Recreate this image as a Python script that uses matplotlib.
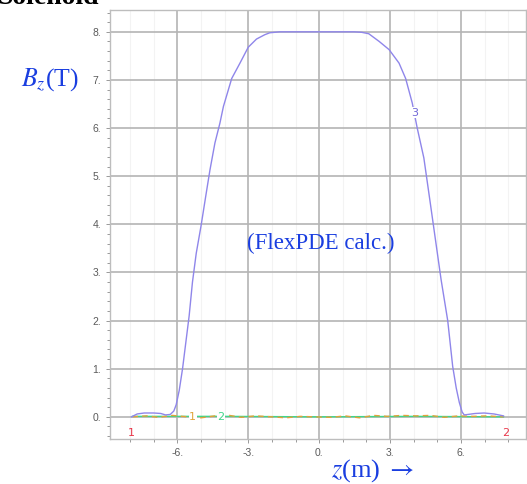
import numpy as np
import matplotlib.pyplot as plt
from matplotlib.ticker import MultipleLocator, FuncFormatter

# curve 3: Bz on axis
z3 = [-7.94, -7.7, -7.4, -7.0, -6.7, -6.5, -6.3, -6.15, -6.05, -5.92, -5.78, -5.64,
      -5.5, -5.36, -5.2, -5.0, -4.8, -4.62, -4.41, -4.2, -4.05, -3.7, -3.35, -3.0,
      -2.65, -2.3, -2.09, -1.67, -1.2, 0.0, 1.2, 1.48, 1.8, 2.1, 2.54, 2.96, 3.38,
      3.66, 3.94, 4.15, 4.43, 4.7, 4.95, 5.16, 5.44, 5.65, 5.8, 5.93, 6.05, 6.14,
      6.3, 6.6, 6.98, 7.4, 7.8]
bz3 = [0.0, 0.06, 0.08, 0.08, 0.07, 0.04, 0.05, 0.12, 0.25, 0.55, 1.0, 1.55,
       2.1, 2.8, 3.4, 3.96, 4.58, 5.13, 5.69, 6.1, 6.45, 7.03, 7.35, 7.68,
       7.85, 7.94, 7.98, 8.0, 8.0, 8.0, 8.0, 8.0, 7.99, 7.96, 7.8, 7.63, 7.35,
       7.03, 6.52, 6.0, 5.38, 4.45, 3.58, 2.85, 2.0, 1.05, 0.6, 0.3, 0.1, 0.04,
       0.05, 0.07, 0.08, 0.06, 0.02]

# curves 1 and 2: near-zero components
z1 = [-7.9, -7.3, -6.8, -6.2, -5.8, -5.0, -4.4, -3.8, -3.3, -2.7, -2.0, -1.4, -0.8,
      -0.2, 0.5, 1.1, 1.7, 2.3, 2.9, 3.5, 4.1, 4.7, 5.3, 5.9, 6.5, 7.1, 7.8]
b1 = [0.0, 0.02, -0.01, 0.03, 0.01, -0.02, 0.02, 0.03, -0.01, 0.02, 0.0, -0.02,
      0.01, 0.0, -0.01, 0.02, -0.02, 0.03, 0.01, 0.03, 0.02, 0.03, -0.01, 0.02,
      0.01, 0.02, 0.0]
z2 = [-7.9, -4.0, 0.0, 4.0, 7.8]
b2 = [0.01, 0.01, 0.0, 0.01, 0.0]

xticks = [-6, -3, 0, 3, 6]
yticks = [0, 1, 2, 3, 4, 5, 6, 7, 8]

blue = '#1a3ee0'
tick_col = '#5a5a5a'

fig = plt.figure(figsize=(5.27, 4.84), dpi=100)
ax = fig.add_axes([0.2087, 0.093, 0.7893, 0.886])

ax.plot(z2, b2, color='#3fd68a', lw=1.0)
ax.plot(z1, b1, color='#e0a33a', lw=1.0, ls=(0, (4, 3)))
ax.plot(z3, bz3, color='#8f86ea', lw=1.0)

ax.set_xlim(-8.85, 8.75)
ax.set_ylim(-0.46, 8.45)
ax.set_xticks(xticks)
ax.set_yticks(yticks)
ax.xaxis.set_minor_locator(MultipleLocator(1))
ax.yaxis.set_minor_locator(MultipleLocator(0.2))
fmt = FuncFormatter(lambda v, p: '%d.' % int(round(v)))
ax.xaxis.set_major_formatter(fmt)
ax.yaxis.set_major_formatter(fmt)

ax.grid(True, which='major', color='#b4b4b4', lw=1.2)
ax.grid(True, which='minor', axis='x', color='#f3f3f3', lw=0.8)
ax.set_axisbelow(True)
for s in ax.spines.values():
    s.set_color('#bdbdbd')
    s.set_linewidth(1.0)
ax.tick_params(which='both', direction='out', color='#999999', labelcolor=tick_col,
               labelsize=7.5, length=3, width=0.7)
ax.tick_params(which='minor', length=2)
for lab in ax.get_xticklabels() + ax.get_yticklabels():
    lab.set_family('Liberation Sans')

# curve labels
ax.text(-7.94, -0.33, '1', color='#e8374a', fontsize=8, ha='center', va='center')
ax.text(7.88, -0.33, '2', color='#e8374a', fontsize=8, ha='center', va='center')
ax.text(-5.35, 0.0, '1', color='#e0a33a', fontsize=8, ha='center', va='center',
        bbox=dict(fc='white', ec='none', pad=0.5))
ax.text(-4.16, 0.0, '2', color='#3fd68a', fontsize=8, ha='center', va='center',
        bbox=dict(fc='white', ec='none', pad=0.5))
ax.text(4.03, 6.32, '3', color='#6f66d6', fontsize=8, ha='center', va='center',
        bbox=dict(fc='white', ec='none', pad=0.3))

ax.text(0.05, 3.6, '(FlexPDE calc.)', color=blue, family='Liberation Serif',
        fontsize=16.5, ha='center', va='center')

fig.text(21 / 527, 1 - 80 / 484, r'$B_z$(T)', color=blue, family='Liberation Serif',
         fontsize=18.5, ha='left', va='center', math_fontfamily='stix')
fig.text(331 / 527, 1 - 471 / 484, r'$z$(m) $\rightarrow$', color=blue,
         family='Liberation Serif', fontsize=19, ha='left', va='center',
         math_fontfamily='stix')
fig.text(-0.005, 1 - 4 / 484, 'Solenoid', color='black', family='Liberation Serif',
         fontweight='bold', fontsize=20, ha='left', va='baseline')

fig.savefig('out.png', dpi=100)
